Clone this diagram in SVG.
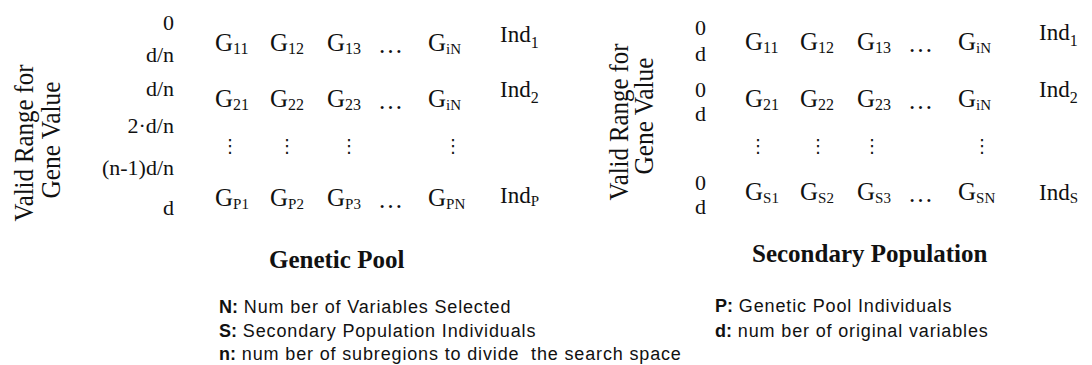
<svg xmlns="http://www.w3.org/2000/svg" width="1092" height="365" viewBox="0 0 1092 365">
<style>
  text { fill: #111; }
  .lbl { font-family: "Liberation Serif", "Times New Roman", serif; font-size: 22px; }
  .rng { font-family: "Liberation Serif", "Times New Roman", serif; font-size: 22px; text-anchor: end; }
  .vert { font-family: "Liberation Serif", "Times New Roman", serif; font-size: 27px; text-anchor: middle; }
  .g { font-family: "Liberation Serif", "Times New Roman", serif; font-size: 25px; }
  .ind { font-family: "Liberation Serif", "Times New Roman", serif; font-size: 23px; }
  .sub { font-size: 16px; }
  .subl { font-size: 15px; }
  .vd { font-family: "DejaVu Sans", sans-serif; font-size: 18px; text-anchor: middle; }
  .title { font-family: "Liberation Serif", "Times New Roman", serif; font-size: 25px; font-weight: bold; }
  .leg { font-family: "Liberation Sans", Arial, sans-serif; font-size: 18px; letter-spacing: 0.85px; }
  .leg tspan.k { font-weight: bold; letter-spacing: 0; }
</style>

<g id="genetic-pool">
  <g id="gp-axis">
    <text class="vert" transform="translate(33,143) rotate(-90)" textLength="157" lengthAdjust="spacingAndGlyphs">Valid Range for</text>
    <text class="vert" transform="translate(60,140) rotate(-90)" textLength="117" lengthAdjust="spacingAndGlyphs">Gene Value</text>
  </g>
  <g id="gp-ranges">
    <text class="rng" x="174" y="30">0</text>
    <text class="rng" x="174" y="62">d/n</text>
    <text class="rng" x="174" y="96">d/n</text>
    <text class="rng" x="174" y="133">2·d/n</text>
    <text class="rng" x="174" y="175">(n-1)d/n</text>
    <text class="rng" x="174" y="215">d</text>
  </g>
  <g id="gp-row1">
    <text class="g" x="215" y="51">G<tspan class="sub" dy="3">11</tspan></text>
    <text class="g" x="270" y="51">G<tspan class="sub" dy="3">12</tspan></text>
    <text class="g" x="327" y="51">G<tspan class="sub" dy="3">13</tspan></text>
    <text class="g" x="378" y="53">…</text>
    <text class="g" x="428" y="51">G<tspan class="subl" dy="3">iN</tspan></text>
    <text class="ind" x="500" y="42">Ind<tspan class="sub" dy="6">1</tspan></text>
  </g>
  <g id="gp-row2">
    <text class="g" x="215" y="107">G<tspan class="sub" dy="3">21</tspan></text>
    <text class="g" x="270" y="107">G<tspan class="sub" dy="3">22</tspan></text>
    <text class="g" x="327" y="107">G<tspan class="sub" dy="3">23</tspan></text>
    <text class="g" x="378" y="109">…</text>
    <text class="g" x="428" y="107">G<tspan class="subl" dy="3">iN</tspan></text>
    <text class="ind" x="500" y="97">Ind<tspan class="sub" dy="6">2</tspan></text>
  </g>
  <g id="gp-dots">
    <text class="vd" x="230" y="152">⋮</text>
    <text class="vd" x="287" y="152">⋮</text>
    <text class="vd" x="349" y="152">⋮</text>
    <text class="vd" x="453" y="152">⋮</text>
  </g>
  <g id="gp-rowP">
    <text class="g" x="215" y="206">G<tspan class="subl" dy="3">P1</tspan></text>
    <text class="g" x="270" y="206">G<tspan class="subl" dy="3">P2</tspan></text>
    <text class="g" x="327" y="206">G<tspan class="subl" dy="3">P3</tspan></text>
    <text class="g" x="378" y="208">…</text>
    <text class="g" x="428" y="206">G<tspan class="subl" dy="3">PN</tspan></text>
    <text class="ind" x="500" y="203">Ind<tspan class="subl" dy="3">P</tspan></text>
  </g>
  <text id="gp-title" class="title" x="269" y="268">Genetic Pool</text>
</g>

<g id="secondary-population">
  <g id="sp-axis">
    <text class="vert" transform="translate(628,122) rotate(-90)" textLength="157" lengthAdjust="spacingAndGlyphs">Valid Range for</text>
    <text class="vert" transform="translate(653,116) rotate(-90)" textLength="117" lengthAdjust="spacingAndGlyphs">Gene Value</text>
  </g>
  <g id="sp-ranges">
    <text class="lbl" x="695" y="35">0</text>
    <text class="lbl" x="695" y="61">d</text>
    <text class="lbl" x="695" y="97">0</text>
    <text class="lbl" x="695" y="121">d</text>
    <text class="lbl" x="695" y="190">0</text>
    <text class="lbl" x="695" y="214">d</text>
  </g>
  <g id="sp-row1">
    <text class="g" x="745" y="50">G<tspan class="sub" dy="3">11</tspan></text>
    <text class="g" x="800" y="50">G<tspan class="sub" dy="3">12</tspan></text>
    <text class="g" x="857" y="50">G<tspan class="sub" dy="3">13</tspan></text>
    <text class="g" x="908" y="52">…</text>
    <text class="g" x="958" y="50">G<tspan class="subl" dy="3">iN</tspan></text>
    <text class="ind" x="1039" y="40">Ind<tspan class="sub" dy="6">1</tspan></text>
  </g>
  <g id="sp-row2">
    <text class="g" x="745" y="107">G<tspan class="sub" dy="3">21</tspan></text>
    <text class="g" x="800" y="107">G<tspan class="sub" dy="3">22</tspan></text>
    <text class="g" x="857" y="107">G<tspan class="sub" dy="3">23</tspan></text>
    <text class="g" x="908" y="109">…</text>
    <text class="g" x="958" y="107">G<tspan class="subl" dy="3">iN</tspan></text>
    <text class="ind" x="1039" y="97">Ind<tspan class="sub" dy="6">2</tspan></text>
  </g>
  <g id="sp-dots">
    <text class="vd" x="758" y="152">⋮</text>
    <text class="vd" x="818" y="152">⋮</text>
    <text class="vd" x="872" y="152">⋮</text>
    <text class="vd" x="982" y="152">⋮</text>
  </g>
  <g id="sp-rowS">
    <text class="g" x="745" y="200">G<tspan class="subl" dy="3">S1</tspan></text>
    <text class="g" x="800" y="200">G<tspan class="subl" dy="3">S2</tspan></text>
    <text class="g" x="857" y="200">G<tspan class="subl" dy="3">S3</tspan></text>
    <text class="g" x="908" y="202">…</text>
    <text class="g" x="958" y="200">G<tspan class="subl" dy="3">SN</tspan></text>
    <text class="ind" x="1039" y="200">Ind<tspan class="subl" dy="3">S</tspan></text>
  </g>
  <text id="sp-title" class="title" x="752" y="262">Secondary Population</text>
</g>

<g id="legend">
  <text class="leg" x="219" y="313"><tspan class="k">N:</tspan> Num ber of Variables Selected</text>
  <text class="leg" x="219" y="337"><tspan class="k">S:</tspan> Secondary Population Individuals</text>
  <text class="leg" x="219" y="360" xml:space="preserve"><tspan class="k">n:</tspan> num ber of subregions to divide  the search space</text>
  <text class="leg" x="715" y="312"><tspan class="k">P:</tspan> Genetic Pool Individuals</text>
  <text class="leg" x="715" y="337"><tspan class="k">d:</tspan> num ber of original variables</text>
</g>
<g id="connectors"></g>
</svg>
